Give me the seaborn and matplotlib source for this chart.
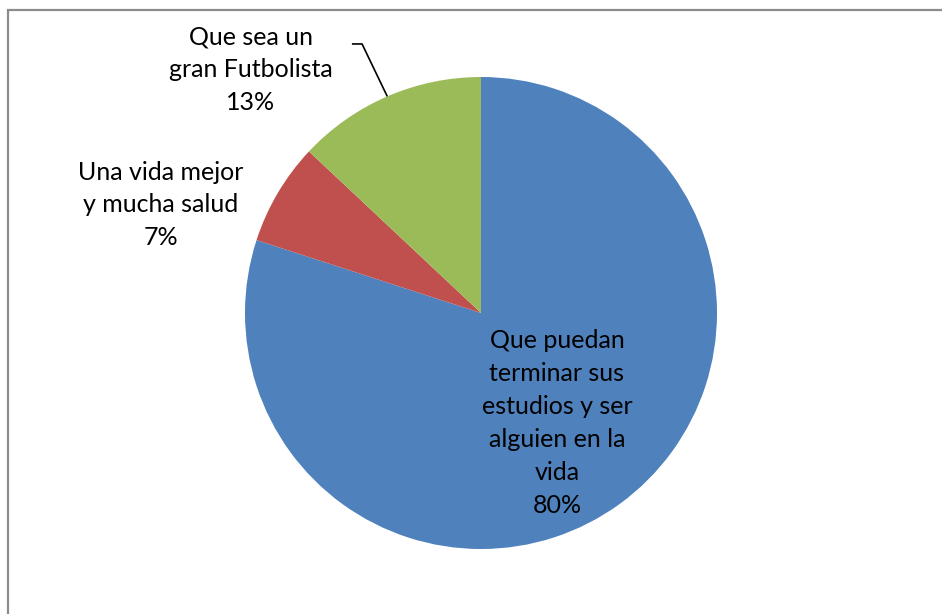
import numpy as np
import matplotlib
matplotlib.use("Agg")
import matplotlib.pyplot as plt
import seaborn as sns
from matplotlib.patches import Rectangle

labels = ["Que puedan\nterminar sus\nestudios y ser\nalguien en la\nvida",
          "Una vida mejor\ny mucha salud",
          "Que sea un\ngran Futbolista"]
shares = [80, 7, 13]
colors = ["#4F81BD", "#C0504D", "#9BBB59"]

sns.set_theme(style="white")
plt.rcParams["font.family"] = ["Lato", "DejaVu Sans"]

W, H = 942, 614
fig = plt.figure(figsize=(W / 100, H / 100), dpi=100)
fig.patch.set_facecolor("white")

# chart frame (runs off the right and bottom edges, as in the source)
fig.patches.append(Rectangle((7.5 / W, -0.1), 1.2, (H - 9.5) / H + 0.1,
                             transform=fig.transFigure, fill=False,
                             edgecolor="#8c8c8c", linewidth=1.6))

r_px = 236
cx, cy = 481, 313
ax = fig.add_axes([(cx - r_px) / W, (H - cy - r_px) / H, 2 * r_px / W, 2 * r_px / H])
wedges, _ = ax.pie(shares, colors=colors, startangle=90, counterclock=False,
                   radius=1, wedgeprops=dict(linewidth=0))
ax.set_xlim(-1, 1)
ax.set_ylim(-1, 1)
ax.set_aspect("equal")
ax.axis("off")

# label positions in pie-radius units
label_pos = [(0.322, -0.466), (-1.356, 0.458), (-0.975, 1.03)]
for lab, val, (x, y) in zip(labels, shares, label_pos):
    ax.text(x, y, f"{lab}\n{val}%", ha="center", va="center", fontsize=18,
            linespacing=1.52, color="black", clip_on=False)

# leader line for the green slice
g = wedges[2]
mid = np.deg2rad((g.theta1 + g.theta2) / 2)
ex, ey = np.cos(mid), np.sin(mid)
ax.plot([-0.547, -0.504, ex], [1.14, 1.14, ey], color="black", lw=1.2,
        clip_on=False, solid_capstyle="butt")

fig.savefig("out.png", dpi=100)
